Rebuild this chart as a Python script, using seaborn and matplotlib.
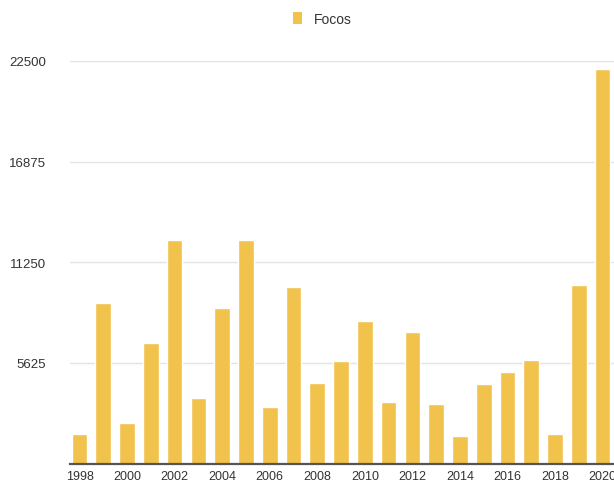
import matplotlib
matplotlib.use("Agg")
import matplotlib.pyplot as plt
import seaborn as sns
import pandas as pd
from matplotlib.patches import Patch

years = [str(y) for y in range(1998, 2021)]
focos = [1660, 8980, 2270, 6740, 12500, 3670, 8680, 12500, 3160, 9890, 4520, 5730,
         7970, 3460, 7370, 3350, 1560, 4440, 5140, 5780, 1650, 9990, 22070]
yticks = [5625, 11250, 16875, 22500]
series_name = "Focos"

df = pd.DataFrame({"ano": years, "focos": focos})

sns.set_theme(style="white")
plt.rcParams['font.family'] = ['Liberation Sans', 'DejaVu Sans']

W, H = 614, 485
fig = plt.figure(figsize=(W / 100, H / 100), dpi=100)
left, right, bottom, top = 70, 614, 464.5, 62
ax = fig.add_axes([left / W, 1 - bottom / H, (right - left) / W, (bottom - top) / H])

bar_color = "#F1C24C"
sns.barplot(data=df, x="ano", y="focos", color=bar_color, saturation=1,
            width=0.66, ax=ax, zorder=3)

ax.set_xlim(-0.4, 22.48)
ax.set_ylim(0, 22500)
ax.set_yticks(yticks)
ax.set_yticklabels([str(t) for t in yticks])
ax.yaxis.grid(True, color="#e4e4e4", linewidth=1, zorder=0)
ax.xaxis.grid(False)

xt = list(range(0, len(years), 2))
ax.set_xticks(xt)
ax.set_xticklabels([years[i] for i in xt])
ax.tick_params(axis="x", length=0, pad=5, labelsize=9, colors="#333333")
ax.tick_params(axis="y", length=0, pad=17, labelsize=9.5, colors="#333333")
ax.set_xlabel("")
ax.set_ylabel("")

for s in ["top", "right", "left"]:
    ax.spines[s].set_visible(False)
ax.spines["bottom"].set_color("#555555")
ax.spines["bottom"].set_linewidth(1.6)
ax.spines["bottom"].set_zorder(5)

handles = [Patch(facecolor=bar_color, edgecolor="none", label=series_name)]
fig.legend(handles=handles, loc="center", bbox_to_anchor=(322 / W, 1 - 20 / H),
           frameon=False, fontsize=10, handlelength=0.7, handleheight=1.0,
           handletextpad=0.8, labelcolor="#333333")

fig.savefig("out.png", dpi=100)
